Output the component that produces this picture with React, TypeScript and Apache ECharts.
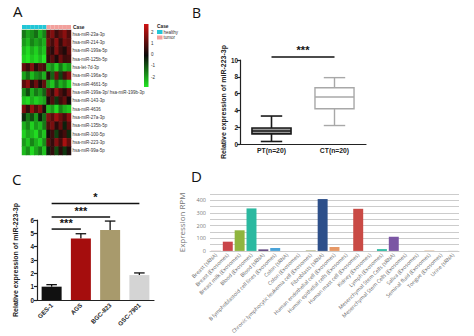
import React, { useEffect, useRef } from 'react';
import * as echarts from 'echarts';

// ---------- Panel A: heatmap ----------
const heatRows = [
  'hsa-miR-23a-3p', 'hsa-miR-214-3p', 'hsa-miR-199a-5p', 'hsa-miR-125b-5p', 'hsa-let-7d-3p',
  'hsa-miR-196a-5p', 'hsa-miR-4661-5p', 'hsa-miR-199a-3p/ hsa-miR-199b-3p', 'hsa-miR-143-3p',
  'hsa-miR-4636', 'hsa-miR-27a-3p', 'hsa-miR-135b-5p', 'hsa-miR-100-5p', 'hsa-miR-223-3p', 'hsa-miR-99a-5p',
];
const heatCols = ['H1', 'H2', 'H3', 'H4', 'H5', 'H6', 'T1', 'T2', 'T3', 'T4', 'T5', 'T6'];
const caseGroups = ['healthy', 'healthy', 'healthy', 'healthy', 'healthy', 'healthy', 'tumor', 'tumor', 'tumor', 'tumor', 'tumor', 'tumor'];
const heatValues = [
  [-1.0, -1.4, -1.2, -0.9, -1.5, -1.1, 0.8, 1.2, 0.5, 0.9, 1.3, 0.7],
  [-1.3, -1.6, -1.1, -1.4, -1.2, -1.5, 1.0, 0.6, 1.3, 0.4, 1.1, 0.9],
  [-1.6, -1.9, -1.5, -1.8, -1.4, -1.7, 0.6, 0.3, 1.2, 0.5, 0.2, 0.9],
  [-1.8, -2.0, -1.7, -1.9, -1.6, -2.0, 0.4, 0.8, 0.2, 1.0, 0.5, 0.6],
  [0.9, 0.5, 1.2, 0.3, 0.8, 0.6, -1.5, -1.2, -1.8, -1.0, -1.6, -1.3],
  [-1.4, -0.9, -1.6, -1.2, -1.0, -1.5, 0.3, -0.8, 1.0, -0.5, 0.6, 1.2],
  [0.8, 1.3, 0.4, 1.0, 0.2, 0.9, -1.3, -1.7, -0.9, -1.5, -1.2, -1.8],
  [-1.2, -0.6, -1.5, -1.0, -1.3, -0.8, 0.9, 0.4, 1.4, 0.7, 0.3, 1.0],
  [-1.7, -1.9, -1.5, -1.8, -1.6, -1.4, 0.2, 0.7, -0.4, 0.5, 0.9, 0.1],
  [1.1, 0.4, 1.4, 0.7, 1.2, 0.2, -1.6, -1.3, -1.9, -1.1, -1.5, -1.7],
  [-0.3, -1.0, -0.6, -1.3, -0.2, -0.9, 1.2, 0.8, 1.5, 1.0, 0.6, 1.3],
  [-1.5, -1.1, -1.8, -1.3, -1.6, -1.0, 0.7, 1.1, 0.3, 0.9, -0.2, 0.8],
  [-1.8, -1.4, -1.6, -1.9, -1.2, -1.7, 0.1, 0.5, -0.5, 0.3, 0.6, -0.3],
  [-1.3, -1.7, -1.1, -1.5, -1.8, -1.2, 0.8, 0.4, 1.2, 0.6, 1.6, 0.9],
  [-1.6, -1.2, -1.9, -1.4, -1.0, -1.7, -0.2, 0.4, -0.6, 0.3, -0.4, 0.2],
];
const scaleTicks = [2, 1, 0, -1, -2];

// ---------- Panel B: boxplot ----------
const boxCats = ['PT(n=20)', 'CT(n=20)'];
// [min, q1, median, q3, max]
const boxStats = [
  [0.3, 1.2, 1.55, 1.9, 3.33],
  [2.2, 4.2, 5.6, 6.7, 7.9],
];
const boxSig = [[0, 1, 10.36]];
const boxSigLabels = ['***'];

// ---------- Panel C: bars ----------
const cellLines = ['GES-1', 'AGS', 'BGC-823', 'GSC-7901'];
const cellMeans = [1.0, 4.62, 5.25, 1.87];
const cellUpper = [1.15, 4.97, 5.92, 2.03];
const cellSig = [[0, 1, 5.32], [0, 2, 6.22], [0, 3, 7.23]];
const cellSigLabels = ['***', '***', '*'];

// ---------- Panel D: tissue RPM ----------
const tissues = [
  'Breast (sRNA)', 'Breast (Exosomes)', 'Breast milk (Exosomes)', 'Blood (Exosomes)', 'Blood (sRNA)',
  'B lymphoblastoid cell lines (Exosomes)', 'Colon (sRNA)', 'Colon (Exosomes)',
  'Chronic lymphocytic leukemia cell (Exosomes)', 'Fibroblasts (sRNA)', 'Human endothelial cell (Exosomes)',
  'Human epithelial cells (Exosomes)', 'Human mast cell (Exosomes)', 'Kidney (Exosomes)', 'Lymph (Exosomes)',
  'Mesenchymal Stem Cells (sRNA)', 'Mesenchymal Stem Cells (Exosomes)', 'Saliva (Exosomes)',
  'Seminal fluid (Exosomes)', 'Tongue (Exosomes)', 'Urine (sRNA)',
];
const rpm = [2, 73, 163, 336, 12, 23, 0, 0, 4, 410, 31, 0, 333, 0, 14, 112, 0, 0, 3, 0, 1];

const tissuePalette = [
  '#c9a0a0', '#c9454a', '#8fb53e', '#2bb9a0', '#5b3f7a', '#4aa3d8', '#999999', '#999999',
  '#9c9c5c', '#2d4f8a', '#e69866', '#999999', '#c94a45', '#999999', '#2bb9a0', '#7b56a4',
  '#999999', '#aaaaaa', '#d0a070', '#aaaaaa', '#aaaaaa',
];
const cellPalette = ['#111111', '#a50d0d', '#a89a6c', '#d4d4d4'];
const boxStroke = ['#1a1a1a', '#a8a8a8'];
const boxFill = ['#9a9a9a', '#ffffff'];

const AR = 'Liberation Sans';

export default function App() {
  const ref = useRef<HTMLDivElement>(null);
  useEffect(() => {
    if (!ref.current) return;
    const chart = echarts.init(ref.current, undefined, { renderer: 'svg' });

    const heatData: number[][] = [];
    heatValues.forEach((row, r) => row.forEach((v, c) => heatData.push([c, r, v])));

    const sigRender = (labels: string[], font: string) => (params: any, api: any) => {
      const a = api.coord([api.value(0), api.value(2)]);
      const b = api.coord([api.value(1), api.value(2)]);
      const lab = labels[params.dataIndex];
      return {
        type: 'group',
        children: [
          { type: 'line', shape: { x1: a[0], y1: a[1], x2: b[0], y2: b[1] }, style: { stroke: '#111', lineWidth: 1.5 } },
          {
            type: 'text', x: (a[0] + b[0]) / 2, y: a[1] - 1,
            style: { text: lab, font, fill: '#111', align: 'center', verticalAlign: 'bottom' },
          },
        ],
      };
    };

    const option: any = {
      animation: false,
      grid: [
        { left: 22, top: 30, width: 49, height: 125 },
        { left: 22, top: 25, width: 49, height: 4 },
        { left: 240, top: 60, width: 126, height: 84 },
        { left: 37, top: 220, width: 117, height: 80 },
        { left: 210, top: 194, width: 249, height: 58 },
      ],
      xAxis: [
        { gridIndex: 0, type: 'category', data: heatCols, show: false },
        { gridIndex: 1, type: 'category', data: heatCols, show: false },
        {
          gridIndex: 2, type: 'category', data: boxCats,
          axisLine: { lineStyle: { color: '#222', width: 1.2 } },
          axisTick: { alignWithLabel: true, length: 3, lineStyle: { color: '#222', width: 1.2 } },
          axisLabel: { fontSize: 6.8, fontWeight: 'bold', fontFamily: AR, color: '#222', margin: 3 },
        },
        {
          gridIndex: 3, type: 'category', data: cellLines,
          axisLine: { lineStyle: { color: '#222', width: 1.2 } },
          axisTick: { alignWithLabel: true, length: 3, lineStyle: { color: '#222', width: 1.2 } },
          axisLabel: { fontSize: 6.2, fontWeight: 'bold', fontFamily: AR, color: '#222', rotate: 45, margin: 4, interval: 0 },
        },
        {
          gridIndex: 4, type: 'category', data: tissues,
          axisLine: { show: true, lineStyle: { color: '#cccccc' } },
          axisTick: { show: false },
          axisLabel: { fontSize: 5.2, fontFamily: 'Open Sans', color: '#666', rotate: 45, margin: 3, interval: 0 },
        },
      ],
      yAxis: [
        {
          gridIndex: 0, type: 'category', data: heatRows, inverse: true, position: 'right',
          axisLine: { show: false }, axisTick: { show: false },
          axisLabel: { fontSize: 4.5, fontFamily: AR, color: '#333', margin: 1.5 },
        },
        { gridIndex: 1, type: 'value', min: 0, max: 1, show: false },
        {
          gridIndex: 2, type: 'value', min: 0, max: 10, interval: 2,
          name: 'Relative expression of miR-223-3p', nameLocation: 'middle', nameGap: 12, nameRotate: 90,
          nameTextStyle: { fontSize: 7, fontWeight: 'bold', fontFamily: AR, color: '#222' },
          axisLine: { show: true, lineStyle: { color: '#222', width: 1.2 } },
          axisTick: { show: true, length: 3, lineStyle: { color: '#222', width: 1.2 } },
          axisLabel: { fontSize: 6.3, fontWeight: 'bold', fontFamily: AR, color: '#222', margin: 2 },
          splitLine: { show: false },
        },
        {
          gridIndex: 3, type: 'value', min: 0, max: 6, interval: 1,
          name: 'Relative expression of miR-223-3p', nameLocation: 'middle', nameGap: 18, nameRotate: 90,
          nameTextStyle: { fontSize: 7, fontWeight: 'bold', fontFamily: AR, color: '#222' },
          axisLine: { show: true, lineStyle: { color: '#222', width: 1.2 } },
          axisTick: { show: true, length: 3, lineStyle: { color: '#222', width: 1.2 } },
          axisLabel: { fontSize: 6.3, fontWeight: 'bold', fontFamily: AR, color: '#222', margin: 3 },
          splitLine: { show: false },
        },
        {
          gridIndex: 4, type: 'value', min: 0, max: 450, interval: 50,
          name: 'Expression RPM', nameLocation: 'middle', nameGap: 17, nameRotate: 90,
          nameTextStyle: { fontSize: 8, fontFamily: 'Open Sans', color: '#777' },
          axisLine: { show: false }, axisTick: { show: false },
          axisLabel: {
            fontSize: 5.5, fontFamily: 'Open Sans', color: '#777', margin: 4,
            formatter: (v: number) => (v % 100 === 0 && v <= 400 ? String(v) : ''),
          },
          splitLine: { show: true, lineStyle: { color: '#cccccc', width: 1 } },
        },
      ],
      visualMap: {
        show: false, type: 'continuous', min: -2, max: 2, seriesIndex: 0, dimension: 2,
        inRange: { color: ['#22e622', '#0a0a0a', '#d01212'] },
      },
      series: [
        {
          type: 'heatmap', xAxisIndex: 0, yAxisIndex: 0, data: heatData,
          itemStyle: { borderWidth: 0 },
        },
        {
          type: 'bar', xAxisIndex: 1, yAxisIndex: 1, barCategoryGap: '0%',
          data: caseGroups.map((g) => ({ value: 1, itemStyle: { color: g === 'healthy' ? '#22c6d6' : '#f2a09c' } })),
        },
        {
          type: 'custom', xAxisIndex: 2, yAxisIndex: 2,
          data: boxStats.map((s, i) => [i, ...s]),
          encode: { x: 0, y: [1, 2, 3, 4, 5] },
          renderItem: (params: any, api: any) => {
            const i = api.value(0);
            const p = (k: number) => api.coord([i, api.value(k)]);
            const lo = p(1), q1 = p(2), md = p(3), q3 = p(4), hi = p(5);
            const band = api.size([1, 0])[0];
            const bw = band * 0.62, cw = band * 0.34;
            const cx = lo[0];
            const st = boxStroke[params.dataIndex];
            const lw = params.dataIndex === 0 ? 1.6 : 1.4;
            const ln = (x1: number, y1: number, x2: number, y2: number) => ({
              type: 'line', shape: { x1, y1, x2, y2 }, style: { stroke: st, lineWidth: lw },
            });
            return {
              type: 'group',
              children: [
                ln(cx, q3[1], cx, hi[1]),
                ln(cx, q1[1], cx, lo[1]),
                ln(cx - cw / 2, hi[1], cx + cw / 2, hi[1]),
                ln(cx - cw / 2, lo[1], cx + cw / 2, lo[1]),
                {
                  type: 'rect', shape: { x: cx - bw / 2, y: q3[1], width: bw, height: q1[1] - q3[1] },
                  style: { fill: boxFill[params.dataIndex], stroke: st, lineWidth: lw },
                },
                ln(cx - bw / 2, md[1], cx + bw / 2, md[1]),
              ],
            };
          },
        },
        {
          type: 'custom', xAxisIndex: 2, yAxisIndex: 2, data: boxSig,
          encode: { x: [0, 1], y: 2 },
          renderItem: sigRender(boxSigLabels, `bold 11px "${AR}"`),
        },
        {
          type: 'bar', xAxisIndex: 3, yAxisIndex: 3, barWidth: 20,
          data: cellMeans.map((v, i) => ({ value: v, itemStyle: { color: cellPalette[i] } })),
        },
        {
          type: 'custom', xAxisIndex: 3, yAxisIndex: 3,
          data: cellMeans.map((v, i) => [i, v, cellUpper[i]]),
          encode: { x: 0, y: [1, 2] },
          renderItem: (params: any, api: any) => {
            const i = api.value(0);
            const base = api.coord([i, api.value(1)]);
            const top = api.coord([i, api.value(2)]);
            const half = api.size([1, 0])[0] * 0.18;
            return {
              type: 'group',
              children: [
                { type: 'line', shape: { x1: top[0], y1: base[1], x2: top[0], y2: top[1] }, style: { stroke: '#111', lineWidth: 1.3 } },
                { type: 'line', shape: { x1: top[0] - half, y1: top[1], x2: top[0] + half, y2: top[1] }, style: { stroke: '#111', lineWidth: 1.3 } },
              ],
            };
          },
        },
        {
          type: 'custom', xAxisIndex: 3, yAxisIndex: 3, data: cellSig,
          encode: { x: [0, 1], y: 2 },
          renderItem: sigRender(cellSigLabels, `bold 11px "${AR}"`),
        },
        {
          type: 'bar', xAxisIndex: 4, yAxisIndex: 4, barCategoryGap: '16%',
          data: rpm.map((v, i) => ({ value: v, itemStyle: { color: tissuePalette[i] } })),
        },
      ],
      graphic: [
        { type: 'text', x: 13, y: 3, style: { text: 'A', font: '15px "Open Sans"', fill: '#111' } },
        { type: 'text', x: 192, y: 5, style: { text: 'B', font: '14px "Open Sans"', fill: '#111' } },
        { type: 'text', x: 12, y: 171, style: { text: 'C', font: '15px "Open Sans"', fill: '#111' } },
        { type: 'text', x: 191, y: 168, style: { text: 'D', font: '15px "Open Sans"', fill: '#111' } },
        { type: 'text', x: 73, y: 24.5, style: { text: 'Case', font: `bold 4.8px "${AR}"`, fill: '#222' } },
        {
          type: 'rect', shape: { x: 144, y: 24, width: 4.5, height: 63 },
          style: {
            fill: {
              type: 'linear', x: 0, y: 0, x2: 0, y2: 1,
              colorStops: [
                { offset: 0, color: '#d01212' },
                { offset: 0.5, color: '#0a0a0a' },
                { offset: 1, color: '#22e622' },
              ],
            },
          },
        },
        ...scaleTicks.map((t, i) => ({
          type: 'text', x: 151, y: 32 + i * 11.3,
          style: { text: String(t), font: `4.5px "${AR}"`, fill: '#333', verticalAlign: 'middle' },
        })),
        { type: 'text', x: 157, y: 23.5, style: { text: 'Case', font: `bold 4.8px "${AR}"`, fill: '#222' } },
        { type: 'rect', shape: { x: 157, y: 30, width: 5.5, height: 4 }, style: { fill: '#22c6d6' } },
        { type: 'text', x: 163.5, y: 32, style: { text: 'healthy', font: `4.5px "${AR}"`, fill: '#333', verticalAlign: 'middle' } },
        { type: 'rect', shape: { x: 157, y: 35.5, width: 5.5, height: 4 }, style: { fill: '#f2a09c' } },
        { type: 'text', x: 163.5, y: 37.5, style: { text: 'tumor', font: `4.5px "${AR}"`, fill: '#333', verticalAlign: 'middle' } },
      ],
    };
    chart.setOption(option);
    return () => chart.dispose();
  }, []);

  return (
    <div
      ref={ref}
      style={{ position: 'fixed', left: 0, top: 0, width: 474, height: 336, background: '#ffffff' }}
    />
  );
}
